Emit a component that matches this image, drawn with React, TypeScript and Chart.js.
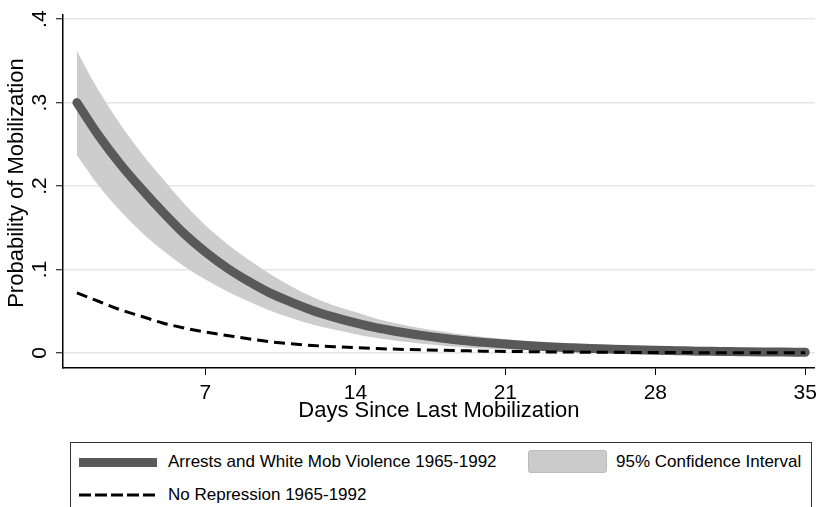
import React, { useEffect, useRef } from "react";
import { Chart, registerables } from "chart.js";

Chart.register(...registerables);

const days = [1,2,3,4,5,6,7,8,9,10,11,12,13,14,15,16,17,18,19,20,21,22,23,24,25,26,27,28,29,30,31,32,33,34,35];
const repression = [0.300,0.261,0.227,0.197,0.169,0.143,0.121,0.102,0.086,0.072,0.061,0.051,0.043,0.036,0.030,0.0255,0.0214,0.018,0.015,0.0127,0.0107,0.009,0.0076,0.0064,0.0053,0.0045,0.0038,0.0032,0.0027,0.0022,0.0019,0.0016,0.0013,0.0011,0.0009];
const ciUpper = [0.362,0.315,0.275,0.240,0.209,0.179,0.153,0.131,0.112,0.095,0.080,0.067,0.057,0.049,0.041,0.035,0.030,0.026,0.022,0.019,0.0165,0.014,0.012,0.010,0.0085,0.0072,0.006,0.005,0.0042,0.0035,0.003,0.0025,0.0021,0.0018,0.0015];
const ciLower = [0.237,0.201,0.171,0.145,0.123,0.104,0.088,0.074,0.062,0.051,0.042,0.034,0.028,0.0225,0.018,0.0145,0.0115,0.009,0.007,0.0055,0.0043,0.0034,0.0027,0.0021,0.0016,0.0012,0.0009,0.0007,0.0005,0.0004,0.0003,0.0003,0.0002,0.0002,0.0001];
const noRepression = [0.072,0.062,0.052,0.044,0.036,0.030,0.025,0.021,0.017,0.0135,0.011,0.009,0.0075,0.0063,0.0053,0.0045,0.0038,0.0032,0.0027,0.0022,0.0019,0.0016,0.0013,0.0011,0.0009,0.0008,0.0007,0.0006,0.0005,0.0004,0.0003,0.0003,0.0002,0.0002,0.0002];
const xTicks = [7, 14, 21, 28, 35];
const yTicks = [0, 0.1, 0.2, 0.3, 0.4];
const yTickLabels = ["0", ".1", ".2", ".3", ".4"];
const yTitle = "Probability of Mobilization";

const FONT = "'Liberation Sans', Arial, sans-serif";
const LINE_COLOR = "#595959";
const BAND_COLOR = "#cdcdcd";

const pts = (vals: number[]) => days.map((d, i) => ({ x: d, y: vals[i] }));

const yLabelPlugin = {
  id: "yLabels",
  afterDraw(chart: any) {
    const ctx = chart.ctx;
    const y = chart.scales.y;
    ctx.save();
    ctx.fillStyle = "#000";
    ctx.textAlign = "center";
    ctx.textBaseline = "middle";
    ctx.font = `21px ${FONT}`;
    yTicks.forEach((v, i) => {
      const py = y.getPixelForValue(v);
      ctx.save();
      ctx.translate(40, py);
      ctx.rotate(-Math.PI / 2);
      ctx.fillText(yTickLabels[i], 0, 0);
      ctx.restore();
    });
    ctx.font = `22px ${FONT}`;
    ctx.save();
    ctx.translate(17, y.getPixelForValue(0.2) - 3);
    ctx.rotate(-Math.PI / 2);
    ctx.fillText(yTitle, 0, 0);
    ctx.restore();
    ctx.restore();
  },
};

export default function App() {
  const ref = useRef<HTMLCanvasElement>(null);
  useEffect(() => {
    if (!ref.current) return;
    const chart = new Chart(ref.current, {
      type: "line",
      data: {
        datasets: [
          {
            label: "No Repression 1965-1992",
            data: pts(noRepression),
            borderColor: "#000",
            borderWidth: 3,
            borderDash: [11, 6],
            pointRadius: 0,
            fill: false,
            cubicInterpolationMode: "monotone",
          },
          {
            label: "Arrests and White Mob Violence 1965-1992",
            data: pts(repression),
            borderColor: LINE_COLOR,
            borderWidth: 9,
            borderCapStyle: "round",
            pointRadius: 0,
            fill: false,
            cubicInterpolationMode: "monotone",
          },
          {
            label: "95% Confidence Interval",
            data: pts(ciUpper),
            borderWidth: 0,
            borderColor: BAND_COLOR,
            backgroundColor: BAND_COLOR,
            pointRadius: 0,
            fill: "+1",
            cubicInterpolationMode: "monotone",
          },
          {
            label: "lower",
            data: pts(ciLower),
            borderWidth: 0,
            borderColor: BAND_COLOR,
            backgroundColor: BAND_COLOR,
            pointRadius: 0,
            fill: false,
            cubicInterpolationMode: "monotone",
          },
        ],
      },
      options: {
        animation: false,
        responsive: false,
        devicePixelRatio: 1,
        layout: { padding: { left: 0, right: 5, top: 15, bottom: 0 } },
        plugins: { legend: { display: false }, tooltip: { enabled: false } },
        scales: {
          x: {
            type: "linear",
            min: 0.35,
            max: 35.45,
            afterFit: (s: any) => { s.height = 72; },
            afterBuildTicks: (s: any) => { s.ticks = xTicks.map((v) => ({ value: v })); },
            grid: { drawOnChartArea: false, drawTicks: true, tickLength: 7, tickColor: "#000", tickWidth: 1 },
            border: { display: true, color: "#000", width: 1.5 },
            ticks: { color: "#000", font: { family: FONT, size: 21 }, padding: 6, maxRotation: 0, callback: (v: any) => String(v) },
            title: { display: true, text: "Days Since Last Mobilization", color: "#000", font: { family: FONT, size: 22 }, padding: { top: 0, bottom: 16 } },
          },
          y: {
            type: "linear",
            min: -0.018,
            max: 0.405,
            afterFit: (s: any) => { s.width = 63; },
            afterBuildTicks: (s: any) => { s.ticks = yTicks.map((v) => ({ value: v })); },
            grid: { color: "#e6e6e6", lineWidth: 1.5, drawTicks: true, tickLength: 7, tickColor: "#000", tickWidth: 1 },
            border: { display: true, color: "#000", width: 1.5 },
            ticks: { display: false },
            title: { display: false },
          },
        },
      },
      plugins: [yLabelPlugin],
    } as any);
    return () => chart.destroy();
  }, []);

  const text: React.CSSProperties = {
    position: "absolute",
    fontFamily: FONT,
    fontSize: 17,
    lineHeight: "20px",
    color: "#000",
    whiteSpace: "nowrap",
  };

  return (
    <div style={{ position: "fixed", left: 0, top: 0, width: 823, height: 507, background: "#fff", overflow: "hidden" }}>
      <canvas ref={ref} width={823} height={440} style={{ position: "absolute", left: 0, top: 0, width: 823, height: 440 }} />
      <div style={{ position: "absolute", left: 70, top: 442, width: 742, height: 90, border: "1px solid #333", boxSizing: "border-box" }}>
        <div style={{ position: "absolute", left: 8, top: 15, width: 78, height: 9, background: LINE_COLOR }} />
        <span style={{ ...text, left: 97, top: 9 }}>Arrests and White Mob Violence 1965-1992</span>
        <div style={{ position: "absolute", left: 457, top: 7, width: 79, height: 23, background: "#cbcbcb", border: "1px solid #bcbcbc", borderRadius: 3, boxSizing: "border-box" }} />
        <span style={{ ...text, left: 545, top: 9 }}>95% Confidence Interval</span>
        <svg style={{ position: "absolute", left: 8, top: 49 }} width={80} height={6}>
          <line x1={0} y1={3} x2={80} y2={3} stroke="#000" strokeWidth={3} strokeDasharray="12 4" />
        </svg>
        <span style={{ ...text, left: 97, top: 42 }}>No Repression 1965-1992</span>
      </div>
    </div>
  );
}
